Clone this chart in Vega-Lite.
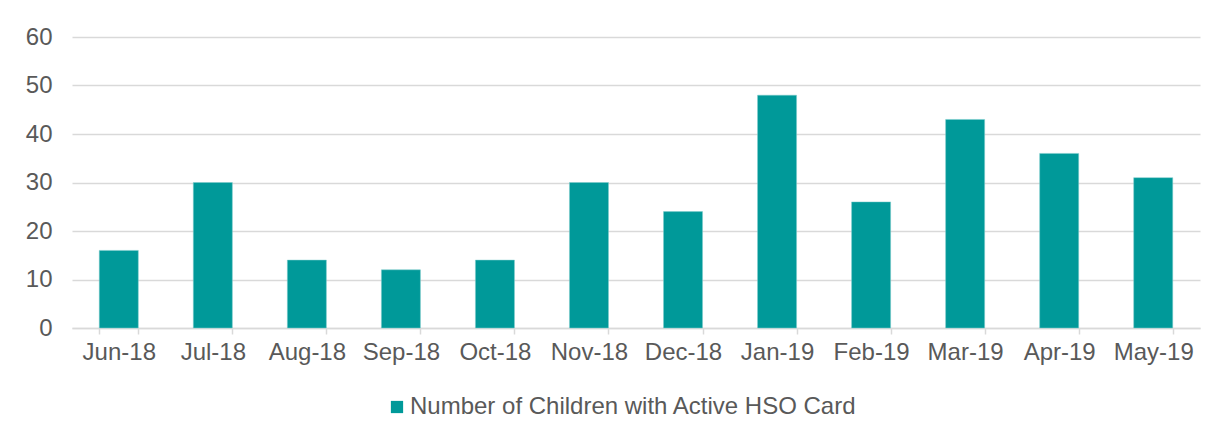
{
  "$schema": "https://vega.github.io/schema/vega-lite/v6.json",
  "width": 1128,
  "height": 291,
  "autosize": {"type": "none"},
  "padding": {"left": 72, "top": 37, "right": 21, "bottom": 112},
  "background": "white",
  "data": {
    "values": [
      {"month": "Jun-18", "value": 16, "series": "Number of Children with Active HSO Card"},
      {"month": "Jul-18", "value": 30, "series": "Number of Children with Active HSO Card"},
      {"month": "Aug-18", "value": 14, "series": "Number of Children with Active HSO Card"},
      {"month": "Sep-18", "value": 12, "series": "Number of Children with Active HSO Card"},
      {"month": "Oct-18", "value": 14, "series": "Number of Children with Active HSO Card"},
      {"month": "Nov-18", "value": 30, "series": "Number of Children with Active HSO Card"},
      {"month": "Dec-18", "value": 24, "series": "Number of Children with Active HSO Card"},
      {"month": "Jan-19", "value": 48, "series": "Number of Children with Active HSO Card"},
      {"month": "Feb-19", "value": 26, "series": "Number of Children with Active HSO Card"},
      {"month": "Mar-19", "value": 43, "series": "Number of Children with Active HSO Card"},
      {"month": "Apr-19", "value": 36, "series": "Number of Children with Active HSO Card"},
      {"month": "May-19", "value": 31, "series": "Number of Children with Active HSO Card"}
    ]
  },
  "mark": {"type": "bar", "stroke": "#7fcccc", "strokeWidth": 0.5},
  "encoding": {
    "x": {
      "field": "month",
      "type": "nominal",
      "sort": null,
      "scale": {"paddingInner": 0.585, "paddingOuter": 0.29},
      "axis": {
        "title": null,
        "labelAngle": 0,
        "labelFont": "Liberation Sans",
        "labelFontSize": 24,
        "labelColor": "#595959",
        "labelPadding": 6,
        "labelLimit": 0,
        "domainColor": "#d9d9d9",
        "domainWidth": 1.5,
        "tickColor": "#d9d9d9",
        "tickWidth": 1.5,
        "tickSize": 6,
        "tickBand": "extent",
        "grid": false
      }
    },
    "y": {
      "field": "value",
      "type": "quantitative",
      "scale": {"domain": [0, 60]},
      "axis": {
        "title": null,
        "values": [0, 10, 20, 30, 40, 50, 60],
        "labelFont": "Liberation Sans",
        "labelFontSize": 24,
        "labelColor": "#595959",
        "labelPadding": 20,
        "ticks": false,
        "domain": false,
        "gridColor": "#d9d9d9",
        "gridWidth": 1.5
      }
    },
    "color": {
      "field": "series",
      "type": "nominal",
      "scale": {"range": ["#009999"]},
      "legend": {
        "title": null,
        "orient": "none",
        "legendX": 313,
        "legendY": 358,
        "symbolType": "square",
        "symbolSize": 150,
        "symbolStrokeWidth": 0,
        "labelFont": "Liberation Sans",
        "labelFontSize": 24,
        "labelColor": "#595959",
        "labelOffset": 1,
        "labelLimit": 0
      }
    }
  },
  "config": {"view": {"stroke": null}}
}
